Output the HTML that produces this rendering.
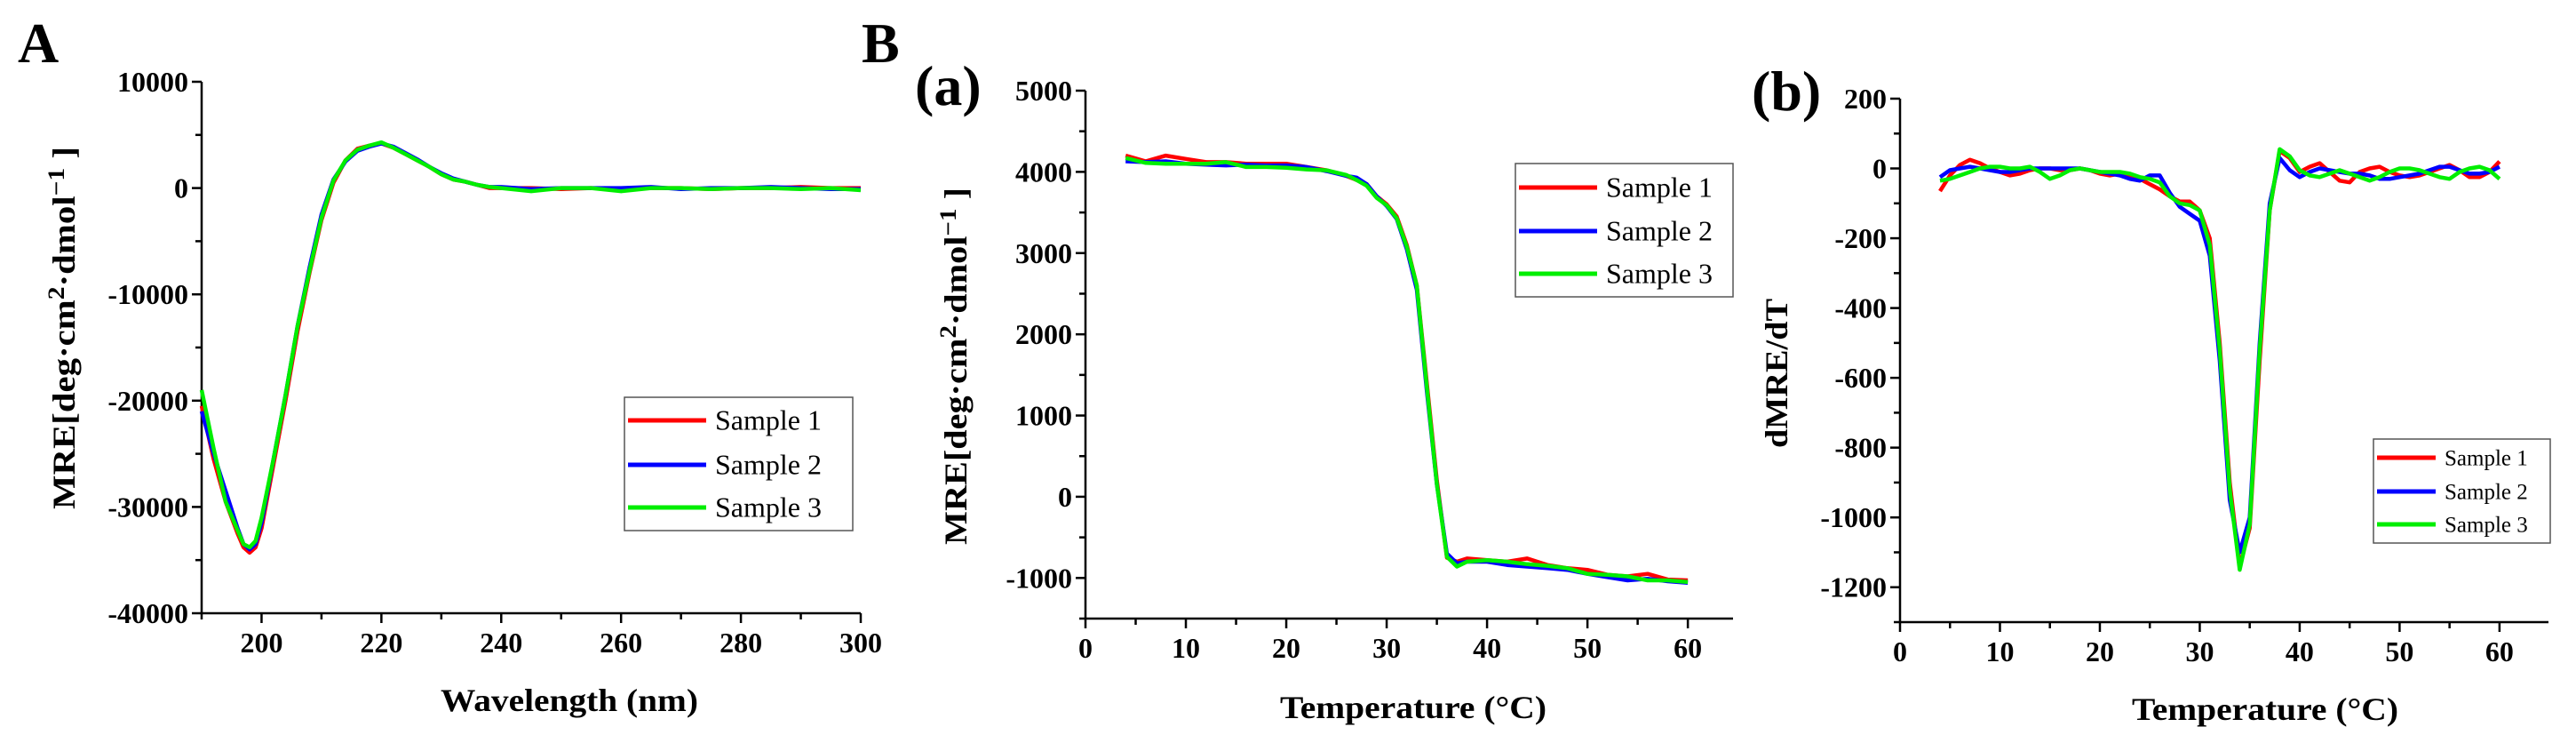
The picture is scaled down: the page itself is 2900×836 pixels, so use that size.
<!DOCTYPE html>
<html><head><meta charset="utf-8"><style>
html,body{margin:0;padding:0;background:#fff;}
svg{display:block;font-family:"Liberation Serif",serif;}
svg text{font-family:"Liberation Serif",serif;}
</style></head><body>
<svg id="fig" width="2900" height="836" viewBox="0 0 2900 836" xmlns="http://www.w3.org/2000/svg" font-family="Liberation Serif, serif">
<text x="20" y="70" font-size="64" font-weight="bold">A</text>
<text x="970" y="70" font-size="64" font-weight="bold">B</text>
<text x="1030" y="118" font-size="64" font-weight="bold">(a)</text>
<text x="1972" y="124" font-size="64" font-weight="bold">(b)</text>
</svg>
<script>
// Panel A data
const aWave = [190,192,194,196,197,198,199,200,202,204,206,208,210,212,214,216,218,220,222,224,226,228,230,232,234,236,238,240,245,250,255,260,265,270,275,280,285,290,295,300];
const aS1 = [-20500,-25500,-29500,-32500,-33800,-34300,-33800,-32000,-26000,-20000,-13500,-8000,-3000,500,2600,3700,4000,4200,3800,3200,2600,2000,1300,800,600,300,0,0,0,-100,0,-100,0,0,-100,0,0,100,0,0];
const aS2 = [-21000,-25000,-28500,-32000,-33500,-34000,-33500,-31500,-25500,-19500,-13000,-7500,-2500,800,2500,3500,3900,4200,3900,3300,2700,2000,1400,900,600,300,100,100,-100,0,0,0,100,-100,0,0,100,0,-100,-100];
const aS3 = [-19000,-24500,-29500,-32200,-33500,-33800,-33200,-31000,-25500,-19500,-13000,-7800,-2800,700,2600,3600,4000,4300,3800,3200,2600,2000,1300,800,600,300,100,0,-300,0,0,-300,0,0,-100,0,0,-100,0,-200];
const aXTicks = [200,220,240,260,280,300];
const aYTicks = [10000,0,-10000,-20000,-30000,-40000];
// Panel B(a) data
const baTemp = [4,6,8,10,12,14,16,18,20,22,24,26,27,28,29,30,31,32,33,34,35,36,37,38,40,42,44,46,48,50,52,54,56,58,60];
const baS1 = [4200,4130,4200,4160,4120,4120,4100,4100,4100,4060,4020,3950,3900,3850,3700,3600,3450,3100,2600,1400,200,-750,-800,-760,-780,-800,-760,-840,-880,-900,-960,-980,-950,-1020,-1030];
const baS2 = [4130,4120,4130,4100,4090,4080,4090,4080,4080,4060,4010,3950,3930,3850,3700,3580,3420,3050,2550,1300,150,-700,-820,-800,-800,-840,-860,-880,-900,-950,-990,-1030,-1010,-1040,-1060];
const baS3 = [4170,4110,4100,4100,4100,4120,4060,4060,4050,4030,4020,3960,3900,3830,3680,3590,3430,3080,2600,1350,150,-740,-860,-800,-780,-800,-830,-850,-880,-950,-960,-980,-1030,-1030,-1050];
const baXTicks = [0,10,20,30,40,50,60];
const baYTicks = [5000,4000,3000,2000,1000,0,-1000];
// Panel B(b) data
const bbTemp = [4,5,6,7,8,9,10,11,12,13,14,15,16,17,18,19,20,21,22,23,24,25,26,27,28,29,30,31,32,33,34,35,36,37,38,39,40,41,42,43,44,45,46,47,48,49,50,51,52,53,54,55,56,57,58,59,60];
const bbS1 = [-65,-20,10,25,15,0,-10,-20,-15,-5,0,0,-5,-5,0,-5,-15,-20,-15,-20,-30,-45,-60,-80,-95,-95,-120,-200,-500,-900,-1140,-1030,-550,-120,50,30,-10,5,15,-10,-35,-40,-10,0,5,-10,-20,-25,-20,-10,0,10,-5,-25,-25,-10,20];
const bbS2 = [-25,-5,0,5,0,-5,-10,-10,-5,0,0,0,0,0,0,-5,-10,-15,-20,-30,-35,-20,-20,-70,-110,-130,-150,-250,-550,-950,-1100,-1000,-500,-100,30,-5,-25,-10,0,-5,-10,-15,-15,-20,-30,-30,-25,-20,-15,-5,5,5,-5,-15,-15,-10,5];
const bbS3 = [-35,-30,-20,-10,0,5,5,0,0,5,-10,-30,-20,-5,0,-5,-10,-10,-10,-15,-25,-30,-40,-80,-100,-105,-120,-220,-520,-920,-1150,-1020,-520,-120,55,35,-5,-20,-25,-15,-5,-15,-25,-35,-25,-10,0,0,-5,-15,-25,-30,-10,0,5,-5,-30];
const bbXTicks = [0,10,20,30,40,50,60];
const bbYTicks = [200,0,-200,-400,-600,-800,-1000,-1200];
const seriesNames = ["Sample 1","Sample 2","Sample 3"];
const seriesColors = ["#ff0000","#0000ff","#00ee00"];

const NS = "http://www.w3.org/2000/svg";
const FONT = "Liberation Serif, serif";
const svg = document.getElementById("fig");
function mk(tag, attrs, parent){
  const e = document.createElementNS(NS, tag);
  for (const k in attrs) e.setAttribute(k, attrs[k]);
  if (tag === "text") e.setAttribute("font-family", FONT);
  (parent||svg).appendChild(e);
  return e;
}
function panel(cfg){
  const g = mk("g", {});
  
  
  const sx = v => cfg.x0 + (v - cfg.xmin) / (cfg.xmax - cfg.xmin) * (cfg.x1 - cfg.x0);
  const sy = v => cfg.y0 + (cfg.ymax - v) / (cfg.ymax - cfg.ymin) * (cfg.y1 - cfg.y0);
  const ax = mk("path", {d:`M${cfg.x0} ${cfg.y0} V${cfg.y1} H${cfg.x1}`, fill:"none", stroke:"#000", "stroke-width":2.5}, g);
  
  
  for (let v = cfg.xMinorStart; v <= cfg.xmax + 1e-9; v += cfg.xMinor) {
    const major = cfg.xTicks.includes(v);
    const t = mk("line", {x1:sx(v), x2:sx(v), y1:cfg.y1, y2:cfg.y1 + (major?11:7), stroke:"#000", "stroke-width":2.5}, g);
    
    
  }
  cfg.xTicks.forEach(v => {
    const t = mk("text", {x:sx(v), y:cfg.y1 + 44, "font-size":32, "font-weight":"bold", "text-anchor":"middle"}, g);
    t.textContent = v;
    
    
  });
  for (let v = cfg.ymin; v <= cfg.ymax + 1e-9; v += cfg.yMinor) {
    const major = cfg.yTicks.includes(v);
    const t = mk("line", {x1:cfg.x0 - (major?11:7), x2:cfg.x0, y1:sy(v), y2:sy(v), stroke:"#000", "stroke-width":2.5}, g);
    
    
  }
  cfg.yTicks.forEach(v => {
    const t = mk("text", {x:cfg.x0 - 15, y:sy(v) + 11, "font-size":32, "font-weight":"bold", "text-anchor":"end"}, g);
    t.textContent = v;
    
    
  });
  cfg.series.forEach((ys, i) => {
    const d = cfg.xs.map((x, j) => (j ? "L" : "M") + sx(x).toFixed(1) + " " + sy(ys[j]).toFixed(1)).join(" ");
    const p = mk("path", {d:d, fill:"none", stroke:seriesColors[i], "stroke-width":4.5, "stroke-linejoin":"round"}, g);
    
    
  });
  const xt = mk("text", {x:cfg.xtX, y:cfg.xtY, "font-size":36, "font-weight":"bold", "text-anchor":"middle", textLength:cfg.xtLen, lengthAdjust:"spacingAndGlyphs"}, g);
  xt.textContent = cfg.xTitle;
  
  
  const yt = mk("text", {x:0, y:0, "font-size":36, "font-weight":"bold", "text-anchor":"middle", transform:`translate(${cfg.ytX},${cfg.ytY}) rotate(-90)`, textLength:cfg.ytLen, lengthAdjust:"spacingAndGlyphs"}, g);
  if (cfg.yTitleRich) {
    yt.innerHTML = 'MRE[deg·cm<tspan font-size="26" dy="-12">2</tspan><tspan dy="12">·dmol</tspan><tspan font-size="26" dy="-12">−1</tspan><tspan dy="12"> ]</tspan>';
  } else yt.textContent = cfg.yTitle;
  
  
  const L = cfg.legend;
  const lg = mk("g", {}, g);
  
  
  mk("rect", {x:L.x, y:L.y, width:L.w, height:L.h, fill:"#fff", stroke:"#555", "stroke-width":1.5}, lg);
  seriesNames.forEach((n, i) => {
    const yy = L.ey[i];
    const ln = mk("line", {x1:L.x + 4, x2:L.x + L.lineLen, y1:yy, y2:yy, stroke:seriesColors[i], "stroke-width":5}, lg);
    
    
    const tx = mk("text", {x:L.x + L.lineLen + 10, y:yy + L.fs*0.33, "font-size":L.fs}, lg);
    tx.textContent = n;
    
    
  });
}
panel({name:"panel-a-cd-spectrum", x0:227, x1:969, y0:92, y1:690, xmin:190, xmax:300, ymin:-40000, ymax:10000,
  xs:aWave, series:[aS1,aS2,aS3], xTicks:aXTicks, yTicks:aYTicks, xMinor:10, xMinorStart:190, yMinor:5000,
  xTitle:"Wavelength (nm)", xtX:641, xtY:800, xtLen:290, yTitleRich:true, ytX:84, ytY:369, ytLen:408,
  legend:{x:703, y:447, w:257, h:150, ey:[473,523,571], lineLen:92, fs:32}});
panel({name:"panel-b-a-thermal-melt", x0:1222, x1:1951, y0:102, y1:696, xmin:0, xmax:64.5, ymin:-1500, ymax:5000,
  xs:baTemp, series:[baS1,baS2,baS3], xTicks:baXTicks, yTicks:baYTicks, xMinor:5, xMinorStart:0, yMinor:500,
  xTitle:"Temperature (°C)", xtX:1591, xtY:808, xtLen:300, yTitleRich:true, ytX:1088, ytY:412, ytLen:402,
  legend:{x:1706, y:184, w:245, h:150, ey:[211,260,308], lineLen:92, fs:32}});
panel({name:"panel-b-b-derivative", x0:2139, x1:2869, y0:111, y1:700, xmin:0, xmax:64.9, ymin:-1300, ymax:200,
  xs:bbTemp, series:[bbS1,bbS2,bbS3], xTicks:bbXTicks, yTicks:bbYTicks, xMinor:5, xMinorStart:0, yMinor:100,
  xTitle:"Temperature (°C)", xtX:2550, xtY:810, xtLen:300, yTitle:"dMRE/dT", ytX:2012, ytY:420, ytLen:168,
  legend:{x:2672, y:494, w:199, h:117, ey:[515,553,590], lineLen:70, fs:25}});
</script>
</body></html>
